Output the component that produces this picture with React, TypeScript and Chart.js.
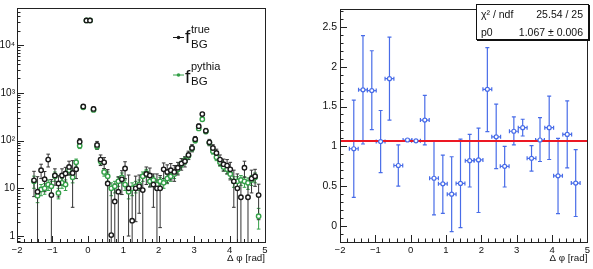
import React, { useEffect, useRef } from "react";
import { Chart, registerables } from "chart.js";
Chart.register(...registerables);

const FONT = "'Liberation Sans', Arial, Helvetica, sans-serif";

// ---------- left panel: background distributions ----------
const binCenters = [-1.52,-1.42,-1.32,-1.22,-1.12,-1.03,-0.93,-0.83,-0.73,-0.63,-0.53,-0.43,-0.33,-0.23,-0.13,-0.04,0.06,0.16,0.26,0.36,0.46,0.56,0.66,0.76,0.86,0.96,1.05,1.15,1.25,1.35,1.45,1.55,1.65,1.75,1.85,1.95,2.04,2.14,2.24,2.34,2.44,2.54,2.64,2.74,2.84,2.94,3.03,3.13,3.23,3.33,3.43,3.53,3.63,3.73,3.83,3.93,4.02,4.12,4.22,4.32,4.42,4.52,4.62,4.72,4.82];
const trueBG = [14.7,8.5,24,15.5,40,7.2,18.6,12.6,18.6,20.5, 28,21,25,95,520,33000,33000,460,81,40, 35,12.6,1.05,5.3,8.5,15.4,26,10,2.1,10, 11,9.2,20,18.6,12,10,10,25,22,24, 22,27,33,37,50,70,107,200,360,160, 92,70,55,40,32,30,25,14,10,6.5, 27,6.5,16,18,7.2];
const trueBGErr = [8,9,8,7,12,8,7,6,7,7, 9,17,9,15,50,400,400,45,15,10, 9,12,9,7,9,8,10,9,7,8, 8,9.5,8,8,8,10,8.5,9,9,9, 8,8,9,9,10,12,15,22,30,20, 14,12,11,10,9,10,10,10,10,7, 10,7,8,7,5];
const pythiaBG = [14,7,9.5,10,12,11,18,8,13,12, 24,17,35,78,500,33000,33000,440,75,37, 22,18,10,11,14,17,12,8.5,10,11, 12,18,21,14,15,12,14,13,16,18, 20,25,32,38,48,68,100,180,280,155, 90,60,45,35,28,25,20,14,14,15, 14,13,15,17,2.6];
const pythiaBGErr = [4,2,2.5,2.5,3,3,4,2,3,3, 5,4,6,10,30,300,300,30,9,6, 4,4,3,3,3,4,3,2.5,3,3, 3,4,4,3,3,3,3,3,3.5,4, 4,5,5,6,7,8,10,15,20,14, 9,8,7,6,5,5,4,3.5,3.5,3.5, 3.5,3.5,3.5,4,1.2];
const leftBinHalf = 0.049;

// ---------- right panel: ratio with constant fit ----------
const ratioX = [-1.61,-1.35,-1.10,-0.85,-0.60,-0.35,-0.09,0.15,0.40,0.66,0.91,1.16,1.41,1.67,1.92,2.17,2.42,2.66,2.92,3.17,3.42,3.66,3.92,4.17,4.43,4.67];
const ratioY = [0.97,1.71,1.70,1.06,1.85,0.76,1.08,1.07,1.33,0.60,0.53,0.40,0.535,0.82,0.83,1.716,1.12,0.75,1.19,1.235,0.85,1.08,1.235,0.63,1.15,0.54];
const ratioLow = [0.36,1.03,1.21,0.67,1.33,0.50,1.07,1.06,1.02,0.14,0.16,-0.07,-0.02,0.49,0.17,1.185,0.72,0.49,1.02,1.13,0.69,0.81,0.835,0.157,0.73,0.12];
const ratioHigh = [1.58,2.39,2.20,1.45,2.37,1.02,1.09,1.08,1.64,1.07,0.89,0.87,1.09,1.15,1.23,2.24,1.53,1.00,1.37,1.34,1.01,1.36,1.63,1.10,1.57,0.96];
const ratioBinHalf = 0.125;
const fitP0 = 1.067;
const statChi2Label = "χ² / ndf";
const statChi2Value = "25.54 / 25";
const statP0Label = "p0";
const statP0Value = "1.067 ± 0.006";

// ---------- axes ----------
const xTickValues = [-2,-1,0,1,2,3,4,5];
const leftYTickValues = [1,10,100,1000,10000];
const leftYTickLabels = ["1","10","10²","10³","10⁴"];
const rightYTickValues = [0,0.5,1,1.5,2,2.5];
const rightYTickLabels = ["0","0.5","1","1.5","2","2.5"];
const xTitle = "Δ φ [rad]";

const BLACK = "#1a1a1a";
const GREEN = "rgb(52,160,72)";
const BLUE = "rgb(72,108,232)";
const RED = "rgb(236,24,36)";

type ErrSet = { xs: number[]; ys: number[]; lo: number[]; hi: number[]; xHalf: number; color: string; width: number; cap: number };

function makeErrorPlugin(sets: ErrSet[]) {
  return {
    id: "errorBars",
    beforeDatasetsDraw(chart: any) {
      const { ctx, chartArea: a, scales } = chart;
      const xs = scales.x, ys = scales.y;
      ctx.save();
      ctx.beginPath();
      ctx.rect(a.left, a.top, a.right - a.left, a.bottom - a.top);
      ctx.clip();
      for (const s of sets) {
        ctx.strokeStyle = s.color;
        ctx.lineWidth = s.width;
        for (let i = 0; i < s.xs.length; i++) {
          const px = xs.getPixelForValue(s.xs[i]);
          const py = ys.getPixelForValue(s.ys[i]);
          const clipped = s.lo[i] <= ys.min;
          const pLo = clipped ? a.bottom + 3 : ys.getPixelForValue(s.lo[i]);
          const pHi = ys.getPixelForValue(Math.min(s.hi[i], ys.max * 10));
          ctx.beginPath();
          ctx.moveTo(px, pLo);
          ctx.lineTo(px, pHi);
          ctx.moveTo(px - s.cap, pHi);
          ctx.lineTo(px + s.cap, pHi);
          if (!clipped) {
            ctx.moveTo(px - s.cap, pLo);
            ctx.lineTo(px + s.cap, pLo);
          }
          if (s.xHalf > 0) {
            const xl = xs.getPixelForValue(s.xs[i] - s.xHalf);
            const xr = xs.getPixelForValue(s.xs[i] + s.xHalf);
            ctx.moveTo(xl, py);
            ctx.lineTo(xr, py);
            ctx.moveTo(xl, py - s.cap);
            ctx.lineTo(xl, py + s.cap);
            ctx.moveTo(xr, py - s.cap);
            ctx.lineTo(xr, py + s.cap);
          }
          ctx.stroke();
        }
      }
      ctx.restore();
    },
  };
}

function makeFramePlugin(cfg: { xMajor: number[]; xMinor: number[]; yMajor: number[]; yMinor: number[]; major: number; minor: number; yMajorLen: number; yMinorLen: number }) {
  return {
    id: "frame",
    afterDraw(chart: any) {
      const { ctx, chartArea: a, scales } = chart;
      const xs = scales.x, ys = scales.y;
      ctx.save();
      ctx.strokeStyle = "#222";
      ctx.lineWidth = 1;
      ctx.beginPath();
      for (const v of cfg.xMajor) {
        const p = Math.round(xs.getPixelForValue(v)) + 0.5;
        ctx.moveTo(p, a.bottom);
        ctx.lineTo(p, a.bottom - cfg.major);
      }
      for (const v of cfg.xMinor) {
        const p = Math.round(xs.getPixelForValue(v)) + 0.5;
        ctx.moveTo(p, a.bottom);
        ctx.lineTo(p, a.bottom - cfg.minor);
      }
      for (const v of cfg.yMajor) {
        const p = Math.round(ys.getPixelForValue(v)) + 0.5;
        ctx.moveTo(a.left, p);
        ctx.lineTo(a.left + cfg.yMajorLen, p);
      }
      for (const v of cfg.yMinor) {
        const p = Math.round(ys.getPixelForValue(v)) + 0.5;
        ctx.moveTo(a.left, p);
        ctx.lineTo(a.left + cfg.yMinorLen, p);
      }
      ctx.stroke();
      ctx.strokeRect(Math.round(a.left) + 0.5, Math.round(a.top) + 0.5, Math.round(a.right - a.left), Math.round(a.bottom - a.top));
      ctx.restore();
    },
  };
}

const legendPlugin = {
  id: "legendMarkers",
  afterDraw(chart: any) {
    const ctx = chart.ctx;
    const items = [
      { y: 37.5, color: BLACK },
      { y: 75, color: GREEN },
    ];
    ctx.save();
    for (const it of items) {
      ctx.strokeStyle = it.color;
      ctx.lineWidth = 1;
      ctx.beginPath();
      ctx.moveTo(173, it.y);
      ctx.lineTo(184, it.y);
      ctx.stroke();
      ctx.beginPath();
      ctx.fillStyle = it.color;
      ctx.arc(178.5, it.y, 1.8, 0, Math.PI * 2);
      ctx.fill();
    }
    ctx.restore();
  },
};

const fmtX = (v: any) => String(v).replace("-", "−");

function xAxis() {
  return {
    type: "linear",
    position: "bottom",
    min: -2,
    max: 5,
    grid: { display: false, drawTicks: false },
    border: { display: false },
    afterBuildTicks: (s: any) => {
      s.ticks = xTickValues.map((v) => ({ value: v }));
    },
    afterFit: (s: any) => {
      s.height = 27;
    },
    ticks: { padding: 3, autoSkip: false, maxRotation: 0, color: "#111", font: { size: 9.5, family: FONT }, callback: fmtX },
    title: { display: true, text: xTitle, align: "end", color: "#111", font: { size: 9.8, family: FONT }, padding: { top: 0, bottom: 5 } },
  };
}

function minorRange(start: number, stop: number, step: number, skipEvery: number) {
  const out: number[] = [];
  const n = Math.round((stop - start) / step);
  for (let i = 0; i <= n; i++) {
    if (i % skipEvery === 0) continue;
    out.push(+(start + i * step).toFixed(4));
  }
  return out;
}

export default function App() {
  const leftRef = useRef<HTMLCanvasElement>(null);
  const rightRef = useRef<HTMLCanvasElement>(null);

  useEffect(() => {
    Chart.defaults.font.family = FONT;
    const trueLo = trueBG.map((v, i) => v - trueBGErr[i]);
    const trueHi = trueBG.map((v, i) => v + trueBGErr[i]);
    const pyLo = pythiaBG.map((v, i) => v - pythiaBGErr[i]);
    const pyHi = pythiaBG.map((v, i) => v + pythiaBGErr[i]);

    const logMinor: number[] = [];
    for (let d = -1; d <= 4; d++) {
      for (let k = 2; k <= 9; k++) {
        const v = k * Math.pow(10, d);
        if (v >= 0.75 && v <= 60000) logMinor.push(v);
      }
    }

    const left = new Chart(leftRef.current!, {
      type: "scatter",
      data: {
        datasets: [
          {
            label: "true",
            data: binCenters.map((x, i) => ({ x, y: trueBG[i] })),
            pointStyle: "circle",
            pointRadius: 2.2,
            pointBorderWidth: 1.4,
            borderColor: BLACK,
            backgroundColor: "#fff",
          },
          {
            label: "pythia",
            data: binCenters.map((x, i) => ({ x, y: pythiaBG[i] })),
            pointStyle: "circle",
            pointRadius: 2.2,
            pointBorderWidth: 1.4,
            borderColor: GREEN,
            backgroundColor: "#fff",
          },
        ],
      },
      options: {
        animation: false,
        responsive: false,
        devicePixelRatio: 1,
        layout: { padding: { top: 4, right: 30, left: 0, bottom: 0 } },
        plugins: { legend: { display: false }, tooltip: { enabled: false } },
        scales: {
          x: xAxis() as any,
          y: {
            type: "logarithmic",
            min: 0.75,
            max: 60000,
            grid: { display: false, drawTicks: false },
            border: { display: false },
            afterBuildTicks: (s: any) => {
              s.ticks = leftYTickValues.map((v) => ({ value: v }));
            },
            afterFit: (s: any) => {
              s.width = 17;
            },
            ticks: {
              padding: 2,
              color: "#111",
              font: { size: 10, family: FONT },
              callback: (v: any) => leftYTickLabels[leftYTickValues.indexOf(Number(v))] ?? "",
            },
          },
        },
      },
      plugins: [
        makeErrorPlugin([
          { xs: binCenters, ys: pythiaBG, lo: pyLo, hi: pyHi, xHalf: leftBinHalf, color: GREEN, width: 1, cap: 1.8 },
          { xs: binCenters, ys: trueBG, lo: trueLo, hi: trueHi, xHalf: leftBinHalf, color: "#333", width: 1, cap: 1.8 },
        ]),
        makeFramePlugin({
          xMajor: xTickValues,
          xMinor: minorRange(-2, 5, 0.2, 5),
          yMajor: leftYTickValues,
          yMinor: logMinor,
          major: 6,
          minor: 3,
          yMajorLen: 7,
          yMinorLen: 3.5,
        }),
        legendPlugin,
      ] as any,
    });

    const right = new Chart(rightRef.current!, {
      type: "scatter",
      data: {
        datasets: [
          {
            label: "ratio",
            data: ratioX.map((x, i) => ({ x, y: ratioY[i] })),
            pointStyle: "circle",
            pointRadius: 2,
            pointBorderWidth: 1.2,
            borderColor: BLUE,
            backgroundColor: "#fff",
          },
          {
            type: "line",
            label: "fit",
            data: [
              { x: -2, y: fitP0 },
              { x: 5, y: fitP0 },
            ],
            borderColor: RED,
            borderWidth: 2,
            pointRadius: 0,
            showLine: true,
          } as any,
        ],
      },
      options: {
        animation: false,
        responsive: false,
        devicePixelRatio: 1,
        layout: { padding: { top: 4, right: 5, left: 0, bottom: 0 } },
        plugins: { legend: { display: false }, tooltip: { enabled: false } },
        scales: {
          x: xAxis() as any,
          y: {
            type: "linear",
            min: -0.2,
            max: 2.72,
            grid: { display: false, drawTicks: false },
            border: { display: false },
            afterBuildTicks: (s: any) => {
              s.ticks = rightYTickValues.map((v) => ({ value: v }));
            },
            afterFit: (s: any) => {
              s.width = 45;
            },
            ticks: {
              padding: 3,
              color: "#111",
              font: { size: 10.5, family: FONT },
              callback: (v: any) => rightYTickLabels[rightYTickValues.indexOf(Number(v))] ?? "",
            },
          },
        },
      },
      plugins: [
        makeErrorPlugin([{ xs: ratioX, ys: ratioY, lo: ratioLow, hi: ratioHigh, xHalf: ratioBinHalf, color: BLUE, width: 1.2, cap: 2 }]),
        makeFramePlugin({
          xMajor: xTickValues,
          xMinor: minorRange(-2, 5, 0.2, 5),
          yMajor: rightYTickValues,
          yMinor: minorRange(-0.2, 2.7, 0.1, 100).filter((v) => !rightYTickValues.includes(v)),
          major: 7,
          minor: 3.5,
          yMajorLen: 7,
          yMinorLen: 3.5,
        }),
      ] as any,
    });

    return () => {
      left.destroy();
      right.destroy();
    };
  }, []);

  const txt = (s: number): React.CSSProperties => ({
    position: "absolute",
    fontFamily: FONT,
    fontSize: s,
    lineHeight: `${s}px`,
    color: "#111",
    whiteSpace: "nowrap",
  });

  return (
    <div style={{ position: "fixed", left: 0, top: 0, width: 593, height: 269, background: "#fff", overflow: "hidden" }}>
      <canvas ref={leftRef} width={295} height={269} style={{ position: "absolute", left: 0, top: 0, width: 295, height: 269 }} />
      <canvas ref={rightRef} width={298} height={269} style={{ position: "absolute", left: 295, top: 0, width: 298, height: 269 }} />
      {/* legend text */}
      <span style={{ ...txt(19), left: 185, top: 27 }}>f</span>
      <span style={{ ...txt(11), left: 191, top: 24 }}>true</span>
      <span style={{ ...txt(11.5), left: 191, top: 38.5 }}>BG</span>
      <span style={{ ...txt(19), left: 185, top: 67 }}>f</span>
      <span style={{ ...txt(11), left: 191, top: 60.5 }}>pythia</span>
      <span style={{ ...txt(11.5), left: 191, top: 76 }}>BG</span>
      {/* stats box */}
      <div
        style={{
          position: "absolute",
          left: 476,
          top: 4,
          width: 113,
          height: 36,
          boxSizing: "border-box",
          border: "1px solid #111",
          boxShadow: "1px 1px 0 #111",
          background: "#fff",
        }}
      />
      <span style={{ ...txt(10.5), left: 481, top: 8.5 }}>{statChi2Label}</span>
      <span style={{ ...txt(10.5), right: 593 - 583, top: 8.5 }}>{statChi2Value}</span>
      <span style={{ ...txt(10.5), left: 481, top: 26.5 }}>{statP0Label}</span>
      <span style={{ ...txt(10.5), right: 593 - 583, top: 26.5 }}>{statP0Value}</span>
    </div>
  );
}
